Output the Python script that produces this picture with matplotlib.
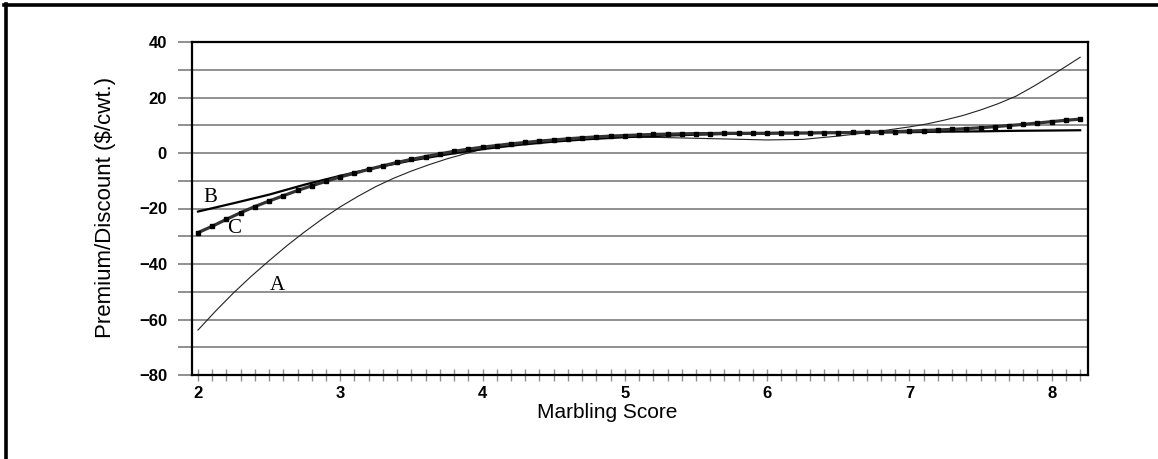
import matplotlib
matplotlib.use("Agg")
import matplotlib.pyplot as plt
from matplotlib.lines import Line2D
from matplotlib.ticker import MultipleLocator
import numpy as np

# Marbling score grid and read-off premium/discount values ($/cwt.)
a_x = [2.0, 2.125, 2.25, 2.375, 2.5, 2.625, 2.75, 2.875, 3.0, 3.125, 3.25,
       3.375, 3.5, 3.625, 3.75, 3.875, 4.0, 4.25, 4.5, 4.75, 5.0, 5.25,
       5.5, 5.75, 6.0, 6.25, 6.5, 6.75, 7.0, 7.125, 7.25, 7.375, 7.5,
       7.625, 7.75, 7.875, 8.0, 8.1, 8.2]
a_vals = [-63.8, -56.9, -50.4, -44.4, -38.8, -33.4, -28.4, -23.7, -19.4,
          -15.6, -12.1, -9.1, -6.5, -4.2, -2.1, -0.3, 1.4, 3.6, 4.9, 5.5,
          5.7, 5.6, 5.3, 5.0, 4.7, 4.9, 6.1, 7.6, 9.4, 10.5, 11.9, 13.5,
          15.5, 17.8, 20.5, 24.1, 28.0, 31.2, 34.5]

b_x = list(np.arange(2.0, 8.01, 0.25)) + [8.2]
b_vals = [-21.1, -18.1, -15.0, -11.4, -8.2, -5.3, -2.7, -0.5, 1.4, 2.9,
          4.1, 5.0, 5.7, 6.2, 6.6, 6.9, 7.1, 7.2, 7.3, 7.4, 7.5, 7.7,
          7.8, 8.0, 8.1, 8.2]

c_x = np.round(np.arange(2.0, 8.21, 0.1), 1)
c_vals = [-28.7, -26.4, -23.9, -21.5, -19.3, -17.3, -15.4, -13.5, -11.8, -10.2,
          -8.6, -7.3, -5.9, -4.6, -3.4, -2.3, -1.3, -0.3, 0.6, 1.4,
          2.1, 2.7, 3.3, 3.8, 4.3, 4.7, 5.1, 5.5, 5.8, 6.1,
          6.3, 6.5, 6.7, 6.8, 6.9, 7.0, 7.0, 7.1, 7.1, 7.1,
          7.1, 7.2, 7.2, 7.2, 7.3, 7.3, 7.4, 7.5, 7.6, 7.7,
          7.9, 8.1, 8.3, 8.5, 8.8, 9.1, 9.5, 9.9, 10.3, 10.8,
          11.3, 11.8, 12.2]

x_ticks = [2, 3, 4, 5, 6, 7, 8]
y_ticks = [-80, -60, -40, -20, 0, 20, 40]

plt.rcParams["font.family"] = ["Liberation Sans", "DejaVu Sans"]

fig = plt.figure(figsize=(11.58, 4.59), dpi=100)
ax = fig.add_axes([192 / 1158, 1 - 375 / 459, 896 / 1158, 333 / 459])
ax.set_xlim(1.958, 8.255)
ax.set_ylim(-80, 40)

grey = "#8f8f8f"
ax.set_axisbelow(True)
ax.set_yticks(y_ticks)
ax.yaxis.set_minor_locator(MultipleLocator(10))
ax.grid(axis="y", which="both", color=grey, lw=1.4)
ax.tick_params(axis="y", which="both", direction="out", length=10,
               width=1.4, color=grey, pad=8, labelsize=12)

ax.set_xticks(x_ticks)
ax.xaxis.set_minor_locator(MultipleLocator(0.1))
ax.tick_params(axis="x", which="both", direction="inout", length=8,
               width=1.0, color=grey, pad=4, labelsize=12)
for lab in ax.get_xticklabels() + ax.get_yticklabels():
    lab.set_fontweight("bold")

for sp in ax.spines.values():
    sp.set_color("black")
    sp.set_linewidth(1.6)

# curves
ax.plot(a_x, a_vals, color="#222222", lw=0.8)
ax.plot(b_x, b_vals, color="black", lw=1.6)
ax.plot(c_x, c_vals, color="#333333", lw=2.3, marker="s", ms=3.5,
        mfc="black", mec="black")

serif = ["Liberation Serif", "DejaVu Serif"]
ax.text(2.084, -17.5, "B", family=serif, fontsize=15, ha="center", va="baseline")
ax.text(2.256, -29.0, "C", family=serif, fontsize=15, ha="center", va="baseline")
ax.text(2.56, -49.2, "A", family=serif, fontsize=15, ha="center", va="baseline")

ax.text((607 - 192) / 896, (375 - 413) / 333, "Marbling Score",
        transform=ax.transAxes, ha="center", va="center", fontsize=15)
ax.text((106 - 192) / 896, (375 - 207) / 333, "Premium/Discount ($/cwt.)",
        transform=ax.transAxes, ha="center", va="center", rotation=90,
        fontsize=16)

# frame edges (top and left only)
fig.add_artist(Line2D([4 / 1158, 1], [1 - 5 / 459] * 2,
                      transform=fig.transFigure, color="black", lw=2.6))
fig.add_artist(Line2D([5.5 / 1158] * 2, [0, 1 - 3.5 / 459],
                      transform=fig.transFigure, color="black", lw=2.6))

fig.savefig("out.png", dpi=100)
